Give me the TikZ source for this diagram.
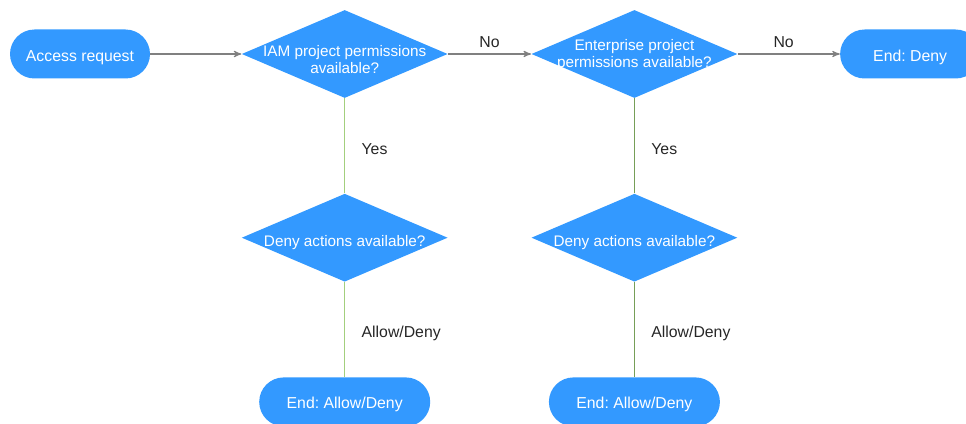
\documentclass[tikz,border=0pt]{standalone}
\usepackage{fontspec}
\setmainfont{Liberation Sans}
\frenchspacing
\definecolor{flowblue}{RGB}{51,153,255}
\definecolor{flowgray}{RGB}{128,128,128}
\definecolor{yesgreen}{RGB}{163,207,125}
\definecolor{yesolive}{RGB}{118,158,88}
\usetikzlibrary{positioning,arrows,shapes.geometric}
\tikzset{
	>=stealth',
	terminal/.style={
		rectangle,
		rounded corners=0.49cm,
		fill=flowblue,
		text=white,
		minimum width=2.8cm,
		minimum height=0.98cm,
		text height=8pt,
		text depth=0pt,
		font=\fontsize{9}{10}\selectfont},
	decision/.style 2 args={
		diamond,
		fill=flowblue,
		inner sep=0pt,
		minimum width=4.12cm,
		minimum height=1.76cm,
		label={[text=white, align=center, yshift=#1, font=\fontsize{8.7}{9.3}\selectfont]center:#2}},
	line/.style={draw=flowgray, line width=0.6pt, ->},
	stem/.style={draw=#1, line width=0.6pt},
	edgelabel/.style={font=\fontsize{9}{10}\selectfont, text=black!85},
}

\begin{document}
\begin{tikzpicture}
[node distance=1.9cm]
\clip (0,0) rectangle (19.32,-8.46);
\node[terminal] (req) at (1.6,-1.08) {Access request};
\node[decision={-0.11cm}{IAM project permissions\\available?}, right=1.82cm of req] (iam) {};
\node[decision={-0.02cm}{Enterprise project\\permissions available?}, right=1.66cm of iam] (ent) {};
\node[terminal, right=2.04cm of ent] (deny) {End: Deny};
\node[decision={-0.1cm}{Deny actions available?}, below=of iam] (iamdeny) {};
\node[decision={-0.1cm}{Deny actions available?}, below=of ent] (entdeny) {};
\node[terminal, minimum width=3.42cm, below=of iamdeny] (iamend) {End: Allow/Deny};
\node[terminal, minimum width=3.42cm, below=of entdeny] (entend) {End: Allow/Deny};

\path[line] (req) -- (iam);
\path[line] (iam) -- node[edgelabel, above=0pt] (no1) {No} (ent);
\path[line] (ent) -- node[edgelabel, above=0pt, pos=0.45] (no2) {No} (deny);
\path[stem=yesgreen] (iam) -- node[edgelabel, right=6pt, pos=0.53] (yes1) {Yes} (iamdeny);
\path[stem=yesolive] (ent) -- node[edgelabel, right=6pt, pos=0.53] (yes2) {Yes} (entdeny);
\path[stem=yesgreen] (iamdeny) -- node[edgelabel, right=6pt, pos=0.54] (ad1) {Allow/Deny} (iamend);
\path[stem=yesolive] (entdeny) -- node[edgelabel, right=6pt, pos=0.54] (ad2) {Allow/Deny} (entend);
\end{tikzpicture}
\end{document}
